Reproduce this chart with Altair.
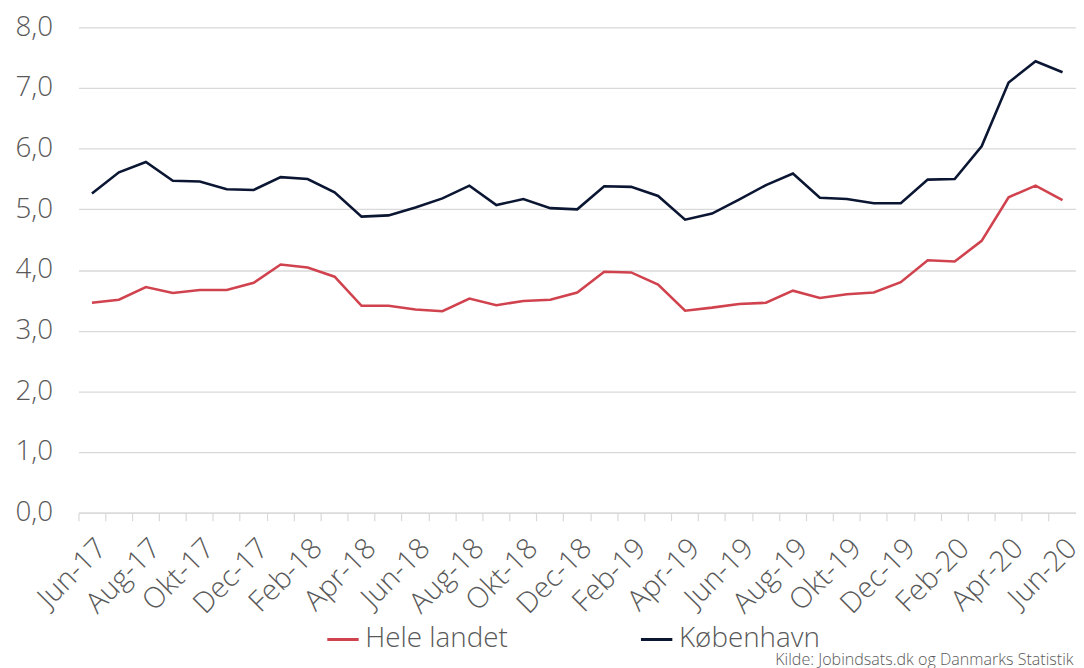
import altair as alt
import pandas as pd

months = ["Jun-17","Jul-17","Aug-17","Sep-17","Okt-17","Nov-17","Dec-17",
          "Jan-18","Feb-18","Mar-18","Apr-18","Maj-18","Jun-18","Jul-18","Aug-18","Sep-18","Okt-18","Nov-18","Dec-18",
          "Jan-19","Feb-19","Mar-19","Apr-19","Maj-19","Jun-19","Jul-19","Aug-19","Sep-19","Okt-19","Nov-19","Dec-19",
          "Jan-20","Feb-20","Mar-20","Apr-20","Maj-20","Jun-20"]

hele_landet = [3.46,3.51,3.72,3.62,3.67,3.67,3.79,
               4.09,4.04,3.89,3.41,3.41,3.35,3.32,3.53,3.42,3.49,3.51,3.63,
               3.97,3.96,3.76,3.33,3.38,3.44,3.46,3.66,3.54,3.60,3.63,3.80,
               4.16,4.14,4.48,5.20,5.39,5.15]

koebenhavn = [5.26,5.61,5.78,5.47,5.46,5.33,5.32,
              5.53,5.50,5.28,4.88,4.90,5.03,5.18,5.39,5.07,5.17,5.02,5.00,
              5.38,5.37,5.22,4.83,4.93,5.16,5.40,5.59,5.19,5.17,5.10,5.10,
              5.49,5.50,6.04,7.09,7.44,7.26]

series_names = ["Hele landet", "København"]
series_colors = ["#D0434E", "#0B1633"]
source_text = "Kilde: Jobindsats.dk og Danmarks Statistik"

rows = []
for i, m in enumerate(months):
    rows.append({"month": m, "serie": series_names[0], "value": hele_landet[i]})
    rows.append({"month": m, "serie": series_names[1], "value": koebenhavn[i]})
df = pd.DataFrame(rows)

FONT = "Open Sans"
GREY = "#595959"
W = 300

label_list = "[" + ",".join("'" + m + "'" for m in months) + "]"

lines = alt.Chart(df).mark_line(strokeWidth=2.6).encode(
    x=alt.X("month:O", sort=months, bandPosition=0.5,
            scale=alt.Scale(type="band", paddingInner=0, paddingOuter=0),
            axis=alt.Axis(title=None, bandPosition=0, labelOffset=0,
                          labelAngle=-45, labelAlign="right", labelBaseline="top",
                          labelFontSize=29, labelColor=GREY, labelFontWeight=W,
                          labelFont=FONT, labelPadding=13,
                          labelExpr=f"indexof({label_list}, datum.value) % 2 == 0 ? datum.value : ''",
                          tickColor="#d9d9d9", tickSize=8, tickWidth=1.2,
                          domainColor="#d9d9d9", domainWidth=1.3, grid=False,
                          labelOverlap=False, labelBound=False, labelFlush=False)),
    y=alt.Y("value:Q", scale=alt.Scale(domain=[0, 8]),
            axis=alt.Axis(title=None, values=[0,1,2,3,4,5,6,7,8],
                          labelExpr="replace(format(datum.value, '.1f'), '.', ',')",
                          labelFontSize=28, labelColor=GREY, labelFont=FONT, labelFontWeight=W,
                          labelPadding=26, ticks=False, domain=False,
                          gridColor="#d9d9d9", gridWidth=1.3)),
    color=alt.Color("serie:N", sort=series_names,
                    scale=alt.Scale(domain=series_names, range=series_colors),
                    legend=alt.Legend(title=None, orient="none", legendX=249, legendY=599,
                                      direction="horizontal", symbolType="stroke",
                                      symbolStrokeWidth=3, symbolSize=1000,
                                      labelFontSize=28, labelColor=GREY, labelFont=FONT,
                                      labelFontWeight=W,
                                      columnPadding=127, labelOffset=5)),
)

src = alt.Chart(pd.DataFrame({"t": [source_text]})).mark_text(
    align="left", baseline="alphabetic", fontSize=16.2, color=GREY, font=FONT, fontWeight=W
).encode(text="t:N", x=alt.value(702), y=alt.value(642))

chart = alt.layer(lines, src).properties(
    width=1005, height=489,
    autosize=alt.AutoSizeParams(type="none"),
    padding={"left": 71, "top": 17, "right": 0, "bottom": 154},
).configure_view(stroke=None)

chart.save("out.html", embed_options={"renderer": "svg", "actions": False})
